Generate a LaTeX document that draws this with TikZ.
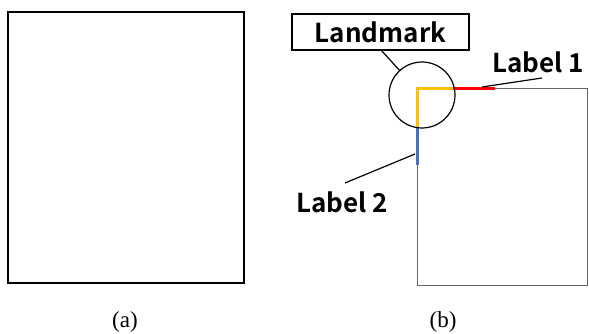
\documentclass[tikz,border=0pt]{standalone}
\usepackage{fontspec}
\setmainfont{Liberation Serif}
\newfontfamily\lblfont{Noto Sans CJK JP}[BoldFont={* Bold}]
\begin{document}
\begin{tikzpicture}[x=1pt,y=-1pt,
  frame/.style={draw=black,line width=1.2pt},
  gframe/.style={draw=black!60,line width=1pt},
  lbl/.style={font=\lblfont\bfseries\fontsize{26}{28}\selectfont,inner sep=0pt},
  captext/.style={font=\fontsize{23}{25}\selectfont,inner sep=0pt},
  lead/.style={draw=black,line width=1.2pt},
  seg/.style={line width=3pt}]
\useasboundingbox (0,0) rectangle (589,334);
% (a)
\draw[frame] (8,12) rectangle (244,283);
\node[captext] (capa) at (125,322) {(a)};
% (b)
\draw[gframe] (417,89) -- (587,89) -- (587,285) -- (417,285) -- cycle;
\coordinate (corner) at (417,89);
\coordinate (redA) at (453,89);
\coordinate (redB) at (495,89);
\coordinate (blueA) at (417,128);
\coordinate (blueB) at (417,165);
\draw[seg,color={rgb,255:red,255;green,192;blue,0}] (blueA) -- (corner) -- (redA);
\draw[seg,red] (redA) -- (redB);
\draw[seg,color={rgb,255:red,68;green,114;blue,196}] (blueA) -- (blueB);
\node[draw=black,line width=1.2pt,circle,minimum size=66pt,inner sep=0pt] (circ) at (422,95) {};
\node[draw=black,line width=1.2pt,lbl,minimum width=177pt,minimum height=36pt] (lm) at (380.5,32) {Landmark};
\draw[lead] (381,50) -- (circ);
\node[lbl,anchor=west] (l1) at (492,62) {Label 1};
\coordinate (l1end) at (482,87);
\draw[lead] (542,78) -- (l1end);
\node[lbl,anchor=west] (l2) at (296,202) {Label 2};
\coordinate (l2end) at (415,154);
\draw[lead] (345,183) -- (l2end);
\node[captext] (capb) at (443,322) {(b)};
\end{tikzpicture}
\end{document}
